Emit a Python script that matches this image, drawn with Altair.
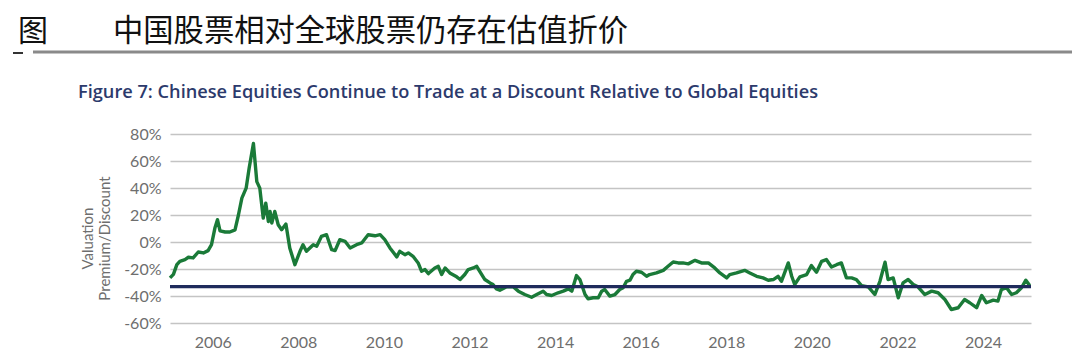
import altair as alt
import pandas as pd

# Decimal-year dates and valuation premium/discount (%)
years = [
    2005.00, 2005.08, 2005.16, 2005.23, 2005.35, 2005.43, 2005.54, 2005.66, 2005.78, 2005.89,
    2005.97, 2006.05, 2006.11, 2006.17, 2006.29, 2006.40, 2006.52, 2006.60, 2006.68, 2006.78,
    2006.85, 2006.95, 2007.03, 2007.10, 2007.18, 2007.24, 2007.30, 2007.34, 2007.38, 2007.45,
    2007.53, 2007.61, 2007.71, 2007.80, 2007.92, 2008.04, 2008.11, 2008.19, 2008.27, 2008.35,
    2008.43, 2008.54, 2008.66, 2008.78, 2008.86, 2008.97, 2009.09, 2009.21, 2009.36, 2009.48,
    2009.63, 2009.79, 2009.91, 2010.02, 2010.14, 2010.30, 2010.37, 2010.49, 2010.57, 2010.68,
    2010.80, 2010.88, 2010.96, 2011.04, 2011.19, 2011.27, 2011.35, 2011.43, 2011.54, 2011.70,
    2011.78, 2011.89, 2011.97, 2012.09, 2012.17, 2012.24, 2012.36, 2012.48, 2012.55, 2012.63,
    2012.71, 2012.87, 2013.02, 2013.14, 2013.29, 2013.45, 2013.57, 2013.72, 2013.80, 2013.92,
    2014.07, 2014.19, 2014.31, 2014.39, 2014.50, 2014.58, 2014.70, 2014.77, 2014.89, 2015.01,
    2015.09, 2015.16, 2015.28, 2015.40, 2015.51, 2015.59, 2015.67, 2015.75, 2015.82, 2015.90,
    2016.02, 2016.14, 2016.21, 2016.37, 2016.53, 2016.64, 2016.76, 2016.88, 2016.99, 2017.11,
    2017.27, 2017.42, 2017.58, 2017.73, 2017.85, 2018.01, 2018.08, 2018.24, 2018.43, 2018.55,
    2018.71, 2018.86, 2018.98, 2019.10, 2019.21, 2019.29, 2019.45, 2019.53, 2019.60, 2019.72,
    2019.88, 2019.99, 2020.11, 2020.23, 2020.34, 2020.46, 2020.58, 2020.69, 2020.81, 2020.93,
    2021.04, 2021.16, 2021.32, 2021.47, 2021.59, 2021.71, 2021.78, 2021.90, 2022.02, 2022.13,
    2022.25, 2022.37, 2022.48, 2022.64, 2022.80, 2022.95, 2023.11, 2023.26, 2023.42, 2023.57,
    2023.69, 2023.85, 2023.97, 2024.08, 2024.24, 2024.35, 2024.43, 2024.55, 2024.67, 2024.78,
    2024.90, 2025.00, 2025.09,
]
premium = [
    -26.6, -24.0, -16.8, -14.3, -13.0, -11.3, -11.8, -7.4, -8.1, -6.4,
    -2.0, 10.3, 16.5, 8.3, 7.4, 7.4, 9.0, 20.0, 32.5, 39.9,
    54.6, 73.0, 44.7, 39.9, 17.7, 28.8, 15.2, 22.6, 14.0, 22.6,
    12.8, 9.1, 13.3, -4.4, -16.8, -6.9, -2.0, -6.9, -4.4, -2.0,
    -3.2, 4.1, 5.4, -5.7, -6.4, 1.7, 0.5, -4.4, -2.0, -0.7,
    5.4, 4.6, 5.4, 1.7, -4.4, -11.0, -6.9, -9.4, -8.1, -10.6,
    -15.5, -21.7, -20.4, -23.4, -19.2, -18.0, -24.1, -19.2, -22.9, -25.8,
    -27.8, -24.1, -20.4, -19.2, -18.0, -21.7, -27.8, -30.3, -31.5, -34.7,
    -35.7, -33.2, -33.2, -36.4, -38.9, -40.9, -38.9, -36.4, -38.9, -39.6,
    -37.6, -36.4, -34.7, -36.4, -24.9, -27.8, -38.9, -42.1, -41.3, -41.3,
    -36.4, -35.2, -40.1, -38.9, -35.2, -33.9, -29.1, -28.3, -24.1, -21.7,
    -22.4, -25.4, -24.1, -22.9, -21.0, -18.0, -14.8, -15.5, -15.5, -16.2,
    -13.6, -15.5, -15.5, -19.2, -22.9, -26.6, -24.1, -22.9, -21.0, -22.9,
    -25.4, -26.6, -28.3, -27.8, -25.4, -29.1, -15.5, -25.4, -31.5, -25.8,
    -24.1, -17.5, -22.4, -14.3, -13.0, -18.5, -16.8, -15.5, -26.6, -26.6,
    -27.8, -32.3, -33.2, -38.9, -29.1, -15.0, -27.8, -26.6, -41.3, -30.3,
    -27.8, -31.5, -33.2, -38.9, -36.4, -37.6, -42.6, -50.0, -48.7, -42.6,
    -45.0, -48.7, -39.6, -45.0, -43.1, -43.8, -35.2, -33.9, -38.9, -37.6,
    -33.9, -28.3, -32.3,
]
average_level = [-33.0]
y_ticks = [-60, -40, -20, 0, 20, 40, 60, 80]
x_tick_years = [2006, 2008, 2010, 2012, 2014, 2016, 2018, 2020, 2022, 2024]

header_label = "图"
header_title = "中国股票相对全球股票仍存在估值折价"
fig_title = "Figure 7: Chinese Equities Continue to Trade at a Discount Relative to Global Equities"


def to_date(y):
    yr = int(y)
    return pd.Timestamp(year=yr, month=1, day=1) + pd.Timedelta(days=(y - yr) * 365.25)


df = pd.DataFrame({"date": [to_date(y) for y in years], "value": premium})
avg_df = pd.DataFrame({"value": average_level})

x_scale = alt.Scale(domain=[alt.DateTime(year=2005, month=1, date=1),
                            alt.DateTime(year=2025, month=2, date=14)])
y_scale = alt.Scale(domain=[-60, 80], nice=False)

GRAY = "#6e6e6e"

y_axis = alt.Axis(
    values=y_ticks, labelExpr="datum.value + '%'", labelOverlap=False,
    title=["Valuation", "Premium/Discount"], titleFont="Lato", titleFontSize=15,
    titleFontWeight="normal", titleColor=GRAY, titleX=-75, titleY=104,
    titleAngle=-90, titleAlign="center", titleBaseline="bottom",
    grid=True, gridColor="#c4c4c4", gridWidth=1.7, ticks=False, domain=False,
    labelFont="Lato", labelFontSize=16, labelColor=GRAY, labelPadding=9)

line = alt.Chart(df).mark_line(color="#1a7a38", strokeWidth=3.4, strokeJoin="round").encode(
    x=alt.X("date:T", scale=x_scale, axis=alt.Axis(
        values=[alt.DateTime(year=y, month=1, date=1) for y in x_tick_years],
        format="%Y", title=None, grid=False, ticks=False, domain=False,
        labelFont="Lato", labelFontSize=16, labelColor=GRAY, labelPadding=11,
        labelOverlap=False)),
    y=alt.Y("value:Q", scale=y_scale, axis=y_axis),
)

avg = alt.Chart(avg_df).mark_rule(color="#1f2b5c", strokeWidth=3.2).encode(
    y=alt.Y("value:Q", scale=y_scale, axis=y_axis))

one = pd.DataFrame({"t": [0]})
hdr1 = alt.Chart(one).mark_text(text=header_label, font="Noto Sans CJK SC", fontSize=30,
                                color="#111111", align="left", baseline="middle").encode(
    x=alt.value(-152), y=alt.value(-102))
hdr2 = alt.Chart(one).mark_text(text=header_title, font="Noto Sans CJK SC", fontSize=30.3,
                                color="#111111", align="left", baseline="middle").encode(
    x=alt.value(-57), y=alt.value(-102))
hdr_rule = alt.Chart(one).mark_rule(color="#8a8a8a", strokeWidth=3).encode(
    x=alt.value(-137), x2=alt.value(910), y=alt.value(-82))
hdr_dash = alt.Chart(one).mark_rule(color="#333333", strokeWidth=2).encode(
    x=alt.value(-157), x2=alt.value(-147), y=alt.value(-81))
sub = alt.Chart(one).mark_text(text=fig_title, font="Open Sans", fontSize=18.2, fontWeight=600,
                               color="#2c3a6c", align="left", baseline="middle").encode(
    x=alt.value(-92), y=alt.value(-41))

chart = alt.layer(line, avg, hdr1, hdr2, hdr_rule, hdr_dash, sub).properties(
    width=861, height=189,
    autosize=alt.AutoSizeParams(type="none"),
    padding={"left": 162, "top": 126, "right": 41, "bottom": 30},
).configure(background="white").configure_view(stroke=None)

chart.save("out.html", embed_options={"renderer": "svg", "actions": False})
